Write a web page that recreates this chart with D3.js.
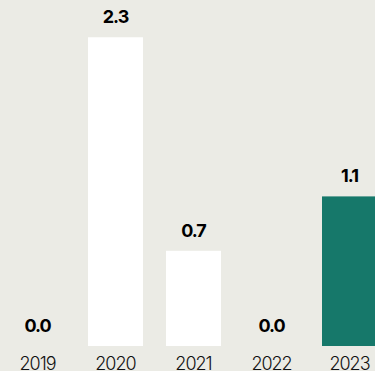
<!DOCTYPE html>
<html><head><meta charset="utf-8">
<script src="https://cdn.jsdelivr.net/npm/d3@7"></script>
<style>
html,body{margin:0;padding:0;background:#EBEBE5;overflow:hidden}
svg{display:block}
</style></head>
<body>
<script>
const years = ["2019","2020","2021","2022","2023"];
const values = [0.0, 2.27, 0.70, 0.0, 1.10];
const barColors = ["#FFFFFF","#FFFFFF","#FFFFFF","#FFFFFF","#16786A"];

const W = 375, H = 371;
const svg = d3.select("body").append("svg").attr("width", W).attr("height", H);
svg.append("rect").attr("width", W).attr("height", H).attr("fill", "#EBEBE5");

const x = d3.scaleBand().domain(years).range([10, 377]).paddingInner(0.295).paddingOuter(0);
const y = d3.scaleLinear().domain([0, 1]).range([346, 210]);

const data = years.map((yr, i) => ({yr, v: values[i], c: barColors[i]}));

svg.selectAll("rect.bar").data(data).join("rect").attr("class","bar")
  .attr("x", d => x(d.yr)).attr("width", x.bandwidth())
  .attr("y", d => y(d.v)).attr("height", d => y(0) - y(d.v))
  .attr("fill", d => d.c);

svg.selectAll("text.val").data(data).join("text").attr("class","val")
  .attr("x", d => x(d.yr) + x.bandwidth()/2)
  .attr("y", d => y(d.v) - 14)
  .attr("text-anchor","middle")
  .attr("font-family","Inter, 'Noto Sans', sans-serif")
  .attr("font-weight", 700).attr("font-size", 18).attr("letter-spacing", -1)
  .attr("fill","#000")
  .text(d => d3.format(".1f")(d.v));

const axis = d3.axisBottom(x).tickSize(0).tickPadding(0);
const g = svg.append("g").attr("transform","translate(0,370)").call(axis);
g.select(".domain").remove();
g.selectAll("text")
  .attr("dy", "0")
  .attr("font-family","Inter, 'Noto Sans', sans-serif")
  .attr("font-weight", 300).attr("font-size", 18).attr("letter-spacing", -1)
  .attr("fill","#111");
</script>
</body></html>
